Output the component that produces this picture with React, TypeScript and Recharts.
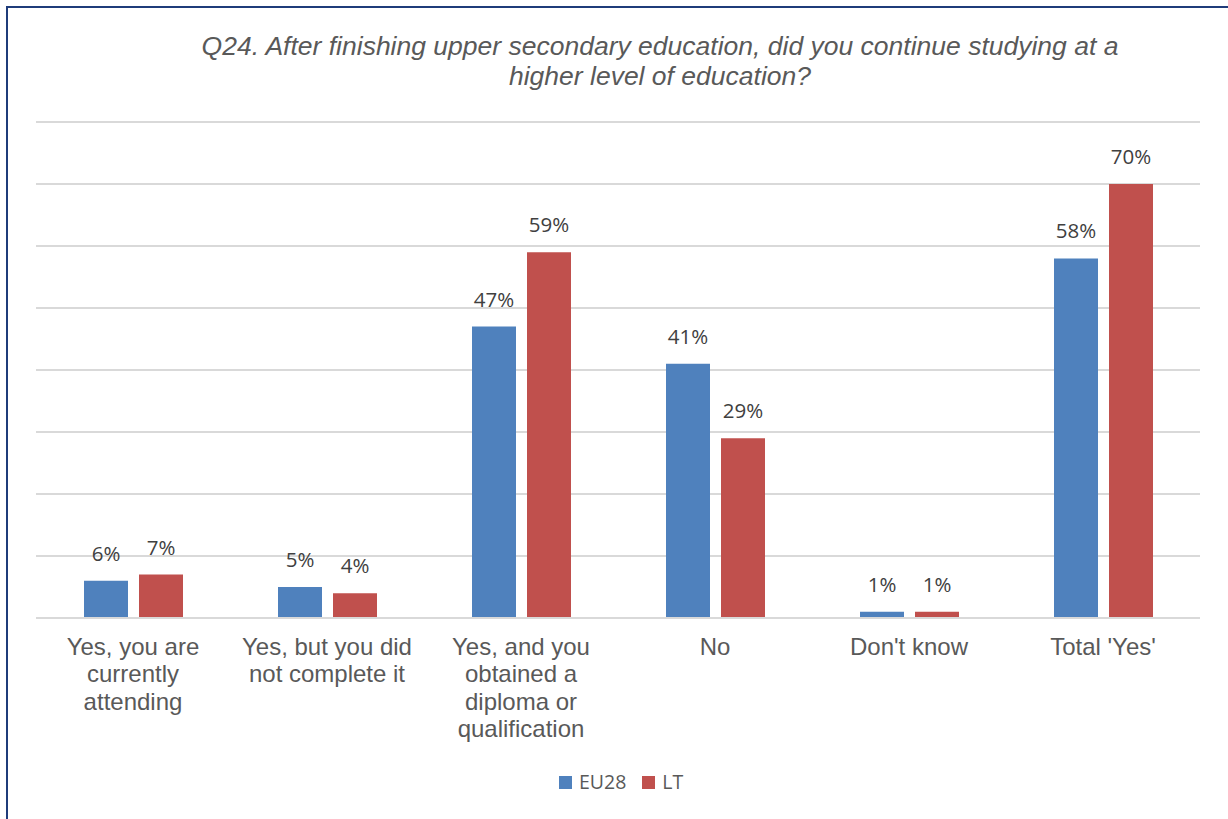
import React from 'react';
import { BarChart, Bar, XAxis, YAxis, CartesianGrid, LabelList } from 'recharts';

// Answer categories, each split into the lines shown under the axis
const categoryLines: string[][] = [
  ['Yes, you are', 'currently', 'attending'],
  ['Yes, but you did', 'not complete it'],
  ['Yes, and you', 'obtained a', 'diploma or', 'qualification'],
  ['No'],
  ["Don't know"],
  ["Total 'Yes'"],
];
const categories: string[] = categoryLines.map((l) => l.join(' '));

// Share of respondents (%)
const eu28Values: number[] = [6, 5, 47, 41, 1, 58];
const ltValues: number[] = [7, 4, 59, 29, 1, 70];

const gridTicks: number[] = [0, 10, 20, 30, 40, 50, 60, 70, 80];

const data = categories.map((name, i) => ({
  name,
  EU28: eu28Values[i],
  LT: ltValues[i],
}));

const BLUE = '#4f81bd';
const RED = '#c0504d';
const TEXT = '#595959';
const LABEL = '#404040';
const GRID = '#d9d9d9';

const CategoryTick = (props: any) => {
  const { x, y, payload } = props;
  const lines = categoryLines[payload.index] ?? [String(payload.value)];
  return (
    <text
      x={x}
      y={y}
      textAnchor="middle"
      fill={TEXT}
      fontFamily="'Liberation Sans', Arial, sans-serif"
      fontSize={24}
    >
      {lines.map((ln, i) => (
        <tspan key={i} x={x} dy={i === 0 ? 29 : 27.3}>
          {ln}
        </tspan>
      ))}
    </text>
  );
};

const legendItems = [
  { label: 'EU28', color: BLUE },
  { label: 'LT', color: RED },
];

export default function App() {
  return (
    <div
      style={{
        position: 'fixed',
        left: 0,
        top: 0,
        width: 1228,
        height: 819,
        overflow: 'hidden',
        background: '#ffffff',
      }}
    >
      <div
        style={{
          position: 'absolute',
          left: 6,
          top: 6,
          width: 1260,
          height: 860,
          border: '2px solid #1f3c7a',
          boxSizing: 'border-box',
        }}
      />
      <div
        style={{
          position: 'absolute',
          left: 110,
          width: 1100,
          top: 31,
          textAlign: 'center',
          fontFamily: "'Liberation Sans', Arial, sans-serif",
          fontStyle: 'italic',
          fontSize: 26.5,
          lineHeight: '30px',
          color: TEXT,
          whiteSpace: 'nowrap',
        }}
      >
        Q24. After finishing upper secondary education, did you continue studying at a
        <br />
        higher level of education?
      </div>
      <div style={{ position: 'absolute', left: 0, top: 0 }}>
        <BarChart
          width={1228}
          height={819}
          data={data}
          margin={{ top: 122, right: 28, bottom: 0, left: 36 }}
          barSize={44}
          barGap={11}
        >
          <CartesianGrid vertical={false} stroke={GRID} strokeWidth={2} />
          <YAxis hide domain={[0, 80]} ticks={gridTicks} />
          <XAxis
            dataKey="name"
            height={201}
            interval={0}
            tick={<CategoryTick />}
            tickLine={false}
            axisLine={{ stroke: GRID, strokeWidth: 2 }}
          />
          <Bar dataKey="EU28" fill={BLUE} isAnimationActive={false}>
            <LabelList
              dataKey="EU28"
              position="top"
              offset={20}
              formatter={(v: any) => `${v}%`}
              fill={LABEL}
              fontSize={20.5}
              fontFamily="'Open Sans', 'Liberation Sans', sans-serif"
            />
          </Bar>
          <Bar dataKey="LT" fill={RED} isAnimationActive={false}>
            <LabelList
              dataKey="LT"
              position="top"
              offset={20}
              formatter={(v: any) => `${v}%`}
              fill={LABEL}
              fontSize={20.5}
              fontFamily="'Open Sans', 'Liberation Sans', sans-serif"
            />
          </Bar>
        </BarChart>
      </div>
      <div
        style={{
          position: 'absolute',
          left: 559,
          top: 769,
          display: 'flex',
          alignItems: 'center',
          fontFamily: "'Open Sans', 'Liberation Sans', sans-serif",
          fontSize: 19.5,
          lineHeight: '26px',
          color: TEXT,
        }}
      >
        {legendItems.map((item, i) => (
          <span
            key={item.label}
            style={{ display: 'inline-flex', alignItems: 'center', marginLeft: i === 0 ? 0 : 16 }}
          >
            <span
              style={{ width: 13, height: 13, background: item.color, display: 'inline-block', marginRight: 7 }}
            />
            {item.label}
          </span>
        ))}
      </div>
    </div>
  );
}
